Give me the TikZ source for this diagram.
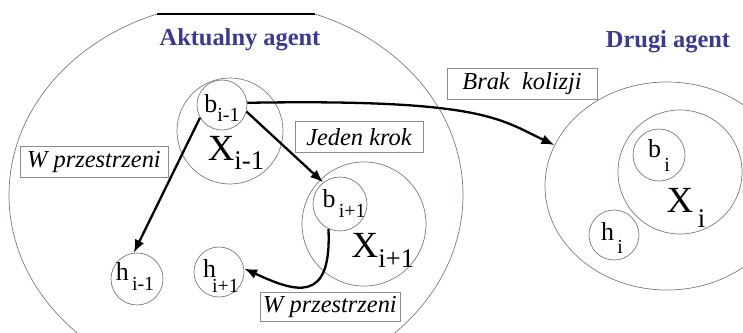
\documentclass[tikz,border=0pt]{standalone}
\usepackage{fontspec}
\setmainfont{Liberation Serif}
\usetikzlibrary{arrows.meta,shapes.geometric}

\definecolor{agentblue}{RGB}{58,58,150}
\definecolor{rimgray}{RGB}{135,118,116}
\definecolor{tagframe}{RGB}{140,140,140}

% small letter with its index, and the big state letter with its index
\newcommand{\psub}[3]{{\fontsize{26}{26}\selectfont #1\raisebox{-#3}{\fontsize{20}{20}\selectfont #2}}}
\newcommand{\xsub}[3]{{\fontsize{37}{37}\selectfont #1\raisebox{-#3}{\fontsize{27}{27}\selectfont #2}}}

\begin{document}
\begin{tikzpicture}[x=1bp,y=-1bp,
    rim/.style={draw=rimgray,line width=0.7bp},
    ring/.style={circle,rim,inner sep=0pt,minimum size=#1},
    tag/.style={draw=tagframe,fill=white,line width=0.7bp,inner sep=0pt,
      font=\fontsize{24.5}{26}\selectfont\itshape},
    title/.style={text=agentblue,font=\fontsize{24.5}{26}\selectfont\bfseries},
    move/.style={-{Latex[length=13bp,width=10bp]},line width=2.3bp}]
    \useasboundingbox (0,0) rectangle (743,332);

    % the current agent
    \begin{scope}
        \clip (0,14) rectangle (743,332);
        \draw[rim] (236,195) ellipse [x radius=227,y radius=193];
    \end{scope}
    \draw[line width=1.2bp] (157,14) -- (315,14);
    \node[title] (akt) at (240,40) {Aktualny agent};

    \node[ring=106bp] (x1) at (230,131) {};
    \node[ring=50bp,fill=white] (b1) at (222,105) {};
    \node[anchor=base] (b1txt) at (222,112) {\psub{b}{i-1}{9bp}};
    \node[anchor=base] (x1txt) at (236,160) {\xsub{X}{i-1}{9bp}};

    \node[ring=124bp] (x3) at (364,224) {};
    \node[ring=54bp] (b3) at (340,204) {};
    \node[anchor=base] (b3txt) at (344,207) {\psub{b}{\,i+1}{10bp}};
    \node[anchor=base] (x3txt) at (383,257) {\xsub{X}{i+1}{10bp}};

    \node[ring=52bp] (h1) at (137,279) {};
    \node[anchor=base] (h1txt) at (135,280) {\psub{h}{\,i-1}{10bp}};
    \node[ring=50bp] (h2) at (219,272) {};
    \node[anchor=base] (h2txt) at (221,277) {\psub{h}{\kern-4bp i+1}{15bp}};

    % the other agent
    \node[title] (drg) at (668,42) {Drugi agent};
    \node[ellipse,rim,minimum width=244bp,minimum height=208bp] (drugi) at (667,186) {};
    \node[ring=124bp] (xi) at (680,172) {};
    \node[ring=52bp] (bi) at (659,155) {};
    \node[anchor=base] (bitxt) at (659,157) {\psub{b}{\,i}{14bp}};
    \node[anchor=base] (xitxt) at (686,212) {\xsub{X}{\,i}{15bp}};
    \node[ring=50bp] (hi) at (614,235) {};
    \node[anchor=base] (hitxt) at (612,240) {\psub{h}{\,i}{13bp}};

    % labels of the moves
    \node[tag,minimum width=148bp,minimum height=31bp] (wl) at (94,162) {W przestrzeni};
    \node[tag,minimum width=128bp,minimum height=31bp] (jk) at (359,137) {Jeden krok};
    \node[tag,minimum width=140bp,minimum height=29bp] (wb) at (330,307) {W przestrzeni};
    \node[tag,minimum width=150bp,minimum height=31bp] (bk) at (522,84) {Brak~ kolizji};

    % moves
    \draw[move] (b1.5) .. controls +(235,-4) and +(-55,-26) .. (drugi.160);
    \draw[move] (b1.210) -- (h1.97);
    \draw[move] (b1.-15) -- (b3.128);
    \draw[move] (b3.245) .. controls (332,305) and (295,292) .. (h2.8);
\end{tikzpicture}
\end{document}
